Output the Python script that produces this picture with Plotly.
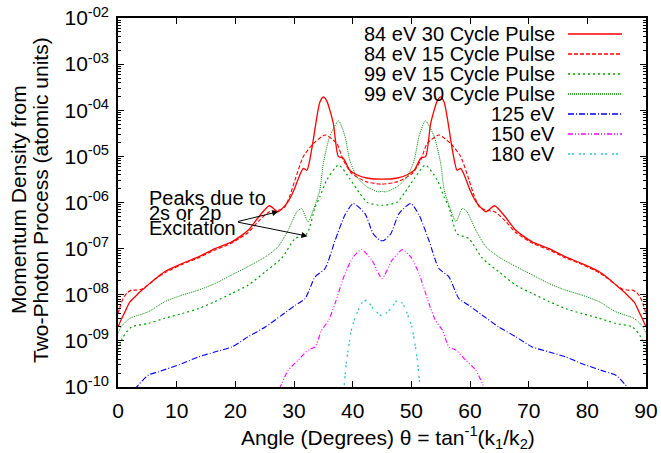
import plotly.graph_objects as go

# ---------------- data ----------------
ang_84_30 = [0, 0.5, 1, 1.5, 2, 3, 4, 5, 6.5, 8, 11, 13.7, 16.5, 19.4, 22.2, 24, 25.8, 27.3, 29, 30,
             31, 31.6, 32.2, 33, 33.9, 34.4, 35, 35.6, 36.7, 37.55, 38.4, 39.5, 40.7, 42.4, 45,
             47.6, 49.3, 50.5, 51.6, 52.45, 53.3, 54.4, 55, 55.6, 56.1, 57, 57.8, 58.4, 59, 60,
             61, 62.7, 64.2, 66, 67.8, 70.6, 73.5, 76.3, 79, 82, 83.5, 85, 86, 87, 88, 88.5, 89, 89.5, 90]
val_84_30 = [2.0e-9, 2.8e-9, 3.8e-9, 5.2e-9, 6.9e-9, 9.3e-9, 1.23e-8, 1.58e-8, 2.3e-8, 3.2e-8, 4.8e-8,
             6.6e-8, 1.0e-7, 1.4e-7, 2.5e-7, 4.9e-7, 8.5e-7, 6.3e-7, 1.05e-6, 1.86e-6, 4.0e-6, 5.5e-6,
             5.0e-6, 1.38e-5, 7.2e-5, 1.5e-4, 1.95e-4, 1.58e-4, 5.2e-5, 1.0e-5, 9.1e-6, 5.0e-6, 4.0e-6,
             3.4e-6, 3.2e-6,
             3.4e-6, 4.0e-6, 5.0e-6, 9.1e-6, 1.0e-5, 5.2e-5, 1.58e-4, 1.95e-4, 1.5e-4, 7.2e-5, 1.38e-5,
             5.0e-6, 5.5e-6, 4.0e-6, 1.86e-6, 1.05e-6, 6.3e-7, 8.5e-7, 4.9e-7, 2.5e-7, 1.4e-7, 1.0e-7,
             6.6e-8, 4.8e-8, 3.2e-8, 2.3e-8, 1.58e-8, 1.23e-8, 9.3e-9, 6.9e-9, 5.2e-9, 3.8e-9, 2.8e-9, 2.0e-9]

ang_84_15 = [0, 0.5, 1, 1.6, 2.3, 3, 4, 5, 6.5, 8, 11, 13.7, 16.5, 19.4, 22.2, 24, 25.8, 27.3, 28.4,
             29.3, 30.2, 31.6, 33.3, 35.3, 37.3, 38.4, 39.8, 42.4, 45,
             47.6, 50.2, 51.6, 52.7, 54.7, 56.7, 58.4, 59.8, 60.7, 61.6, 62.7, 64.2, 66, 67.8, 70.6,
             73.5, 76.3, 79, 82, 83.5, 85, 86, 87, 87.7, 88.4, 89, 89.5, 90]
val_84_15 = [3.9e-9, 6.3e-9, 8.9e-9, 1.12e-8, 1.26e-8, 1.26e-8, 1.32e-8, 1.58e-8, 2.24e-8, 3.0e-8,
             4.6e-8, 6.3e-8, 9.3e-8, 1.32e-7, 2.24e-7, 4.0e-7, 6.3e-7, 6.8e-7, 7.9e-7, 1.41e-6, 3.16e-6,
             1.0e-5, 1.9e-5, 2.9e-5, 1.9e-5, 8.3e-6, 4.3e-6, 2.8e-6, 2.5e-6,
             2.8e-6, 4.3e-6, 8.3e-6, 1.9e-5, 2.9e-5, 1.9e-5, 1.0e-5, 3.16e-6, 1.41e-6, 7.9e-7, 6.8e-7,
             6.3e-7, 4.0e-7, 2.24e-7, 1.32e-7, 9.3e-8, 6.3e-8, 4.6e-8, 3.0e-8, 2.24e-8, 1.58e-8,
             1.32e-8, 1.26e-8, 1.26e-8, 1.12e-8, 8.9e-9, 6.3e-9, 3.9e-9]

ang_99_15 = [0, 0.9, 2.3, 5.2, 8, 10.9, 13.7, 16.5, 19.4, 22.2, 25.1, 27.9, 30.2, 32.2, 33.6, 34.4,
             35.6, 37.6, 39.5, 41.2, 42.5, 45,
             47.5, 48.8, 50.5, 52.4, 54.4, 55.6, 56.4, 57.8, 59.8, 62.1, 64.9, 67.8, 70.6, 73.5,
             76.3, 79.1, 82, 84.8, 87.7, 89.1, 90]
val_99_15 = [6.3e-10, 1.23e-9, 2.0e-9, 2.4e-9, 3.1e-9, 3.9e-9, 5.0e-9, 7.1e-9, 1.07e-8, 1.62e-8,
             3.16e-8, 6.2e-8, 1.66e-7, 2.1e-7, 7.9e-7, 1.32e-6, 3.1e-6, 6.5e-6, 3.3e-6, 1.58e-6,
             1.0e-6, 8.7e-7,
             1.0e-6, 1.58e-6, 3.3e-6, 6.5e-6, 3.1e-6, 1.32e-6, 7.9e-7, 2.1e-7, 1.66e-7, 6.2e-8,
             3.16e-8, 1.62e-8, 1.07e-8, 7.1e-9, 5.0e-9, 3.9e-9, 3.1e-9, 2.4e-9, 2.0e-9, 1.23e-9, 6.3e-10]

ang_99_30 = [0, 0.5, 1.6, 2.3, 5.2, 8, 10.9, 13.7, 16.5, 19.4, 22.2, 25.1, 27.3, 29, 30.5, 31.3,
             32.4, 33.3, 34.4, 35, 36.1, 37.6, 38.7, 39.5, 40.7, 42.4, 44.4, 45,
             45.6, 47.6, 49.3, 50.5, 51.3, 52.4, 53.9, 55, 55.6, 56.7, 57.6, 58.7, 59.5, 61, 62.7,
             64.9, 67.8, 70.6, 73.5, 76.3, 79.1, 82, 84.8, 87.7, 88.4, 89.5, 90]
val_99_30 = [1.45e-9, 2.0e-9, 2.8e-9, 3.2e-9, 4.3e-9, 7.1e-9, 9.8e-9, 1.26e-8, 1.74e-8, 2.7e-8,
             4.1e-8, 6.6e-8, 1.1e-7, 2.5e-7, 6.3e-7, 7.4e-7, 3.8e-7, 6.9e-7, 1.86e-6, 7.1e-6, 2.7e-5,
             5.9e-5, 2.7e-5, 8.3e-6, 3.6e-6, 2.2e-6, 1.7e-6, 1.75e-6,
             1.7e-6, 2.2e-6, 3.6e-6, 8.3e-6, 2.7e-5, 5.9e-5, 2.7e-5, 7.1e-6, 1.86e-6, 6.9e-7, 3.8e-7,
             7.4e-7, 6.3e-7, 2.5e-7, 1.1e-7, 6.6e-8, 4.1e-8, 2.7e-8, 1.74e-8, 1.26e-8, 9.8e-9,
             7.1e-9, 4.3e-9, 3.2e-9, 2.8e-9, 2.0e-9, 1.45e-9]

ang_125 = [2.8, 5.2, 6.9, 10.9, 13.7, 16.5, 19.4, 22.2, 25.1, 27.9, 30.2, 31.9, 33.6, 35.3, 37,
           38.7, 40.1, 42.1, 43.5, 44.7,
           45.3, 46.5, 47.9, 49.9, 51.3, 53, 54.7, 56.4, 58.1, 59.8, 62.1, 64.9, 67.8, 70.6, 73.5,
           76.3, 79.1, 83.1, 84.8, 87.2]
val_125 = [8.9e-11, 1.82e-10, 2.14e-10, 3.2e-10, 4.5e-10, 5.75e-10, 7.4e-10, 1.23e-9, 2.0e-9,
           3.6e-9, 5.9e-9, 8.3e-9, 2.45e-8, 3.7e-8, 1.5e-7, 5.4e-7, 9.5e-7, 5.75e-7, 2.1e-7, 1.5e-7,
           1.5e-7, 2.1e-7, 5.75e-7, 9.5e-7, 5.4e-7, 1.5e-7, 3.7e-8, 2.45e-8, 8.3e-9, 5.9e-9, 3.6e-9,
           2.0e-9, 1.23e-9, 7.4e-10, 5.75e-10, 4.5e-10, 3.2e-10, 2.14e-10, 1.82e-10, 8.9e-11]

ang_150 = [27.5, 29, 30.7, 32.4, 33.6, 34.7, 35.9, 37, 38.7, 40.1, 41.5, 43.3, 45,
           46.7, 48.5, 49.9, 51.3, 53, 54.1, 55.3, 56.4, 57.6, 59.3, 61, 62.5]
val_150 = [9.0e-11, 2.3e-10, 3.8e-10, 6.3e-10, 7.4e-10, 1.7e-9, 2.8e-9, 6.5e-9, 2.9e-8, 6.6e-8,
           9.5e-8, 5.6e-8, 2.24e-8,
           5.6e-8, 9.5e-8, 6.6e-8, 2.9e-8, 6.5e-9, 2.8e-9, 1.7e-9, 7.4e-10, 6.3e-10, 3.8e-10,
           2.3e-10, 9.0e-11]

ang_180 = [38.5, 38.9, 39.3, 39.9, 40.7, 41.5, 42.4, 43.5, 45,
           46.5, 47.6, 48.5, 49.3, 50.1, 50.7, 51.1, 51.5]
val_180 = [8.9e-11, 3.2e-10, 7.4e-10, 2.0e-9, 3.9e-9, 6.5e-9, 7.6e-9, 5.0e-9, 3.5e-9,
           5.0e-9, 7.6e-9, 6.5e-9, 3.9e-9, 2.0e-9, 7.4e-10, 3.2e-10, 8.9e-11]

series_names = ["84 eV 30 Cycle Pulse", "84 eV 15 Cycle Pulse", "99 eV 15 Cycle Pulse",
                "99 eV 30 Cycle Pulse", "125 eV", "150 eV", "180 eV"]

x_ticks = [0, 10, 20, 30, 40, 50, 60, 70, 80, 90]
y_tick_vals = [1e-10, 1e-9, 1e-8, 1e-7, 1e-6, 1e-5, 1e-4, 1e-3, 1e-2]
y_tick_text = ["10<sup>-10</sup>", "10<sup>-09</sup>", "10<sup>-08</sup>", "10<sup>-07</sup>",
               "10<sup>-06</sup>", "10<sup>-05</sup>", "10<sup>-04</sup>", "10<sup>-03</sup>",
               "10<sup>-02</sup>"]
y_minor_vals = [m * 10.0 ** e for e in range(-10, -2) for m in range(2, 10)]

# ---------------- styles ----------------
FONT = "Liberation Sans, Arial, Helvetica, sans-serif"
FS = 21
styles = [
    dict(color="#ff0000", width=1.3, dash="solid"),
    dict(color="#ff0000", width=1.1, dash="4px,2px"),
    dict(color="#00a000", width=1.2, dash="2px,3px"),
    dict(color="#008a00", width=1.0, dash="1px,1px"),
    dict(color="#0000ff", width=1.1, dash="6px,2px,1px,2px"),
    dict(color="#ff00ff", width=1.1, dash="5px,2px,1px,2px,1px,2px"),
    dict(color="#2ec4c4", width=1.3, dash="2px,2px,2px,5px"),
]
data = [(ang_84_30, val_84_30), (ang_84_15, val_84_15), (ang_99_15, val_99_15),
        (ang_99_30, val_99_30), (ang_125, val_125), (ang_150, val_150), (ang_180, val_180)]

fig = go.Figure()
for name, (xs, ys), st in zip(series_names, data, styles):
    fig.add_trace(go.Scatter(x=xs, y=ys, mode="lines", name=name, showlegend=False,
                             hoverinfo="skip",
                             line=dict(color=st["color"], width=st["width"], dash=st["dash"],
                                       shape="spline", smoothing=0.6)))

L, R, T, B = 118, 15, 18, 66
W, H = 661, 453
pw, ph = W - L - R, H - T - B

def px_x(p):
    return (p - L) / pw

def px_y(p):
    return 1 - (p - T) / ph

annotations = []
shapes = []
# manual gnuplot-style legend (text on left, sample on right)
row_y = [34, 54, 74, 94, 114, 134, 154]
for name, st, yy in zip(series_names, styles, row_y):
    annotations.append(dict(x=px_x(557), y=px_y(yy), xref="paper", yref="paper", text=name,
                            showarrow=False, xanchor="right", yanchor="middle",
                            font=dict(family=FONT, size=20, color="black")))
    shapes.append(dict(type="line", xref="paper", yref="paper", x0=px_x(568), x1=px_x(622),
                       y0=px_y(yy), y1=px_y(yy),
                       line=dict(color=st["color"], width=st["width"] + 0.3, dash=st["dash"])))

# annotation text
for txt, yy in [("Peaks due to", 198), ("2s or 2p", 213), ("Excitation", 228)]:
    annotations.append(dict(x=px_x(147), y=px_y(yy), xref="paper", yref="paper", text=txt,
                            showarrow=False, xanchor="left", yanchor="middle",
                            font=dict(family=FONT, size=20, color="black")))
# arrows (log axis: positions in log10 units)
for tx, ty in [(27.3, -6.2), (32.3, -6.73)]:
    annotations.append(dict(x=tx, y=ty, xref="x", yref="y", ax=20.2, ay=-6.42, axref="x", ayref="y",
                            text="", showarrow=True, arrowhead=2, arrowsize=1.2, arrowwidth=1,
                            arrowcolor="black"))

# axis titles
for txt, xx in [("Momentum Density from", 18), ("Two-Photon Process (atomic units)", 40)]:
    annotations.append(dict(x=px_x(xx), y=px_y(200), xref="paper", yref="paper", text=txt,
                            textangle=-90, showarrow=False, xanchor="center", yanchor="middle",
                            font=dict(family=FONT, size=FS, color="black")))
annotations.append(dict(x=px_x(388), y=px_y(437), xref="paper", yref="paper",
                        text="Angle (Degrees) θ = tan<sup>-1</sup>(k<sub>1</sub>/k<sub>2</sub>)",
                        showarrow=False, xanchor="center", yanchor="middle",
                        font=dict(family=FONT, size=FS, color="black")))

fig.update_layout(
    width=W, height=H,
    margin=dict(l=L, r=R, t=T, b=B, pad=0, autoexpand=False),
    plot_bgcolor="white", paper_bgcolor="white",
    font=dict(family=FONT, size=FS, color="black"),
    annotations=annotations, shapes=shapes, hovermode=False,
    xaxis=dict(range=[0, 90], tickmode="array", tickvals=x_ticks, ticks="inside", ticklen=6,
               tickwidth=1, tickcolor="black", showline=True, linecolor="black", linewidth=1.5,
               mirror="ticks", showgrid=False, zeroline=False, automargin=False,
               tickfont=dict(family=FONT, size=FS), ticklabelstandoff=4),
    yaxis=dict(type="log", range=[-10, -2], tickmode="array", tickvals=y_tick_vals,
               ticktext=y_tick_text, ticks="inside", ticklen=6, tickwidth=1, tickcolor="black",
               showline=True, linecolor="black", linewidth=1.5, mirror="ticks", showgrid=False,
               zeroline=False, automargin=False, tickfont=dict(family=FONT, size=FS),
               ticklabelstandoff=3,
               minor=dict(tickmode="array", tickvals=y_minor_vals, ticks="inside", ticklen=3,
                          tickcolor="black", tickwidth=1, showgrid=False)),
)

fig.write_html("out.html", config={"displayModeBar": False},
               post_script="document.body.style.margin='0px';")
